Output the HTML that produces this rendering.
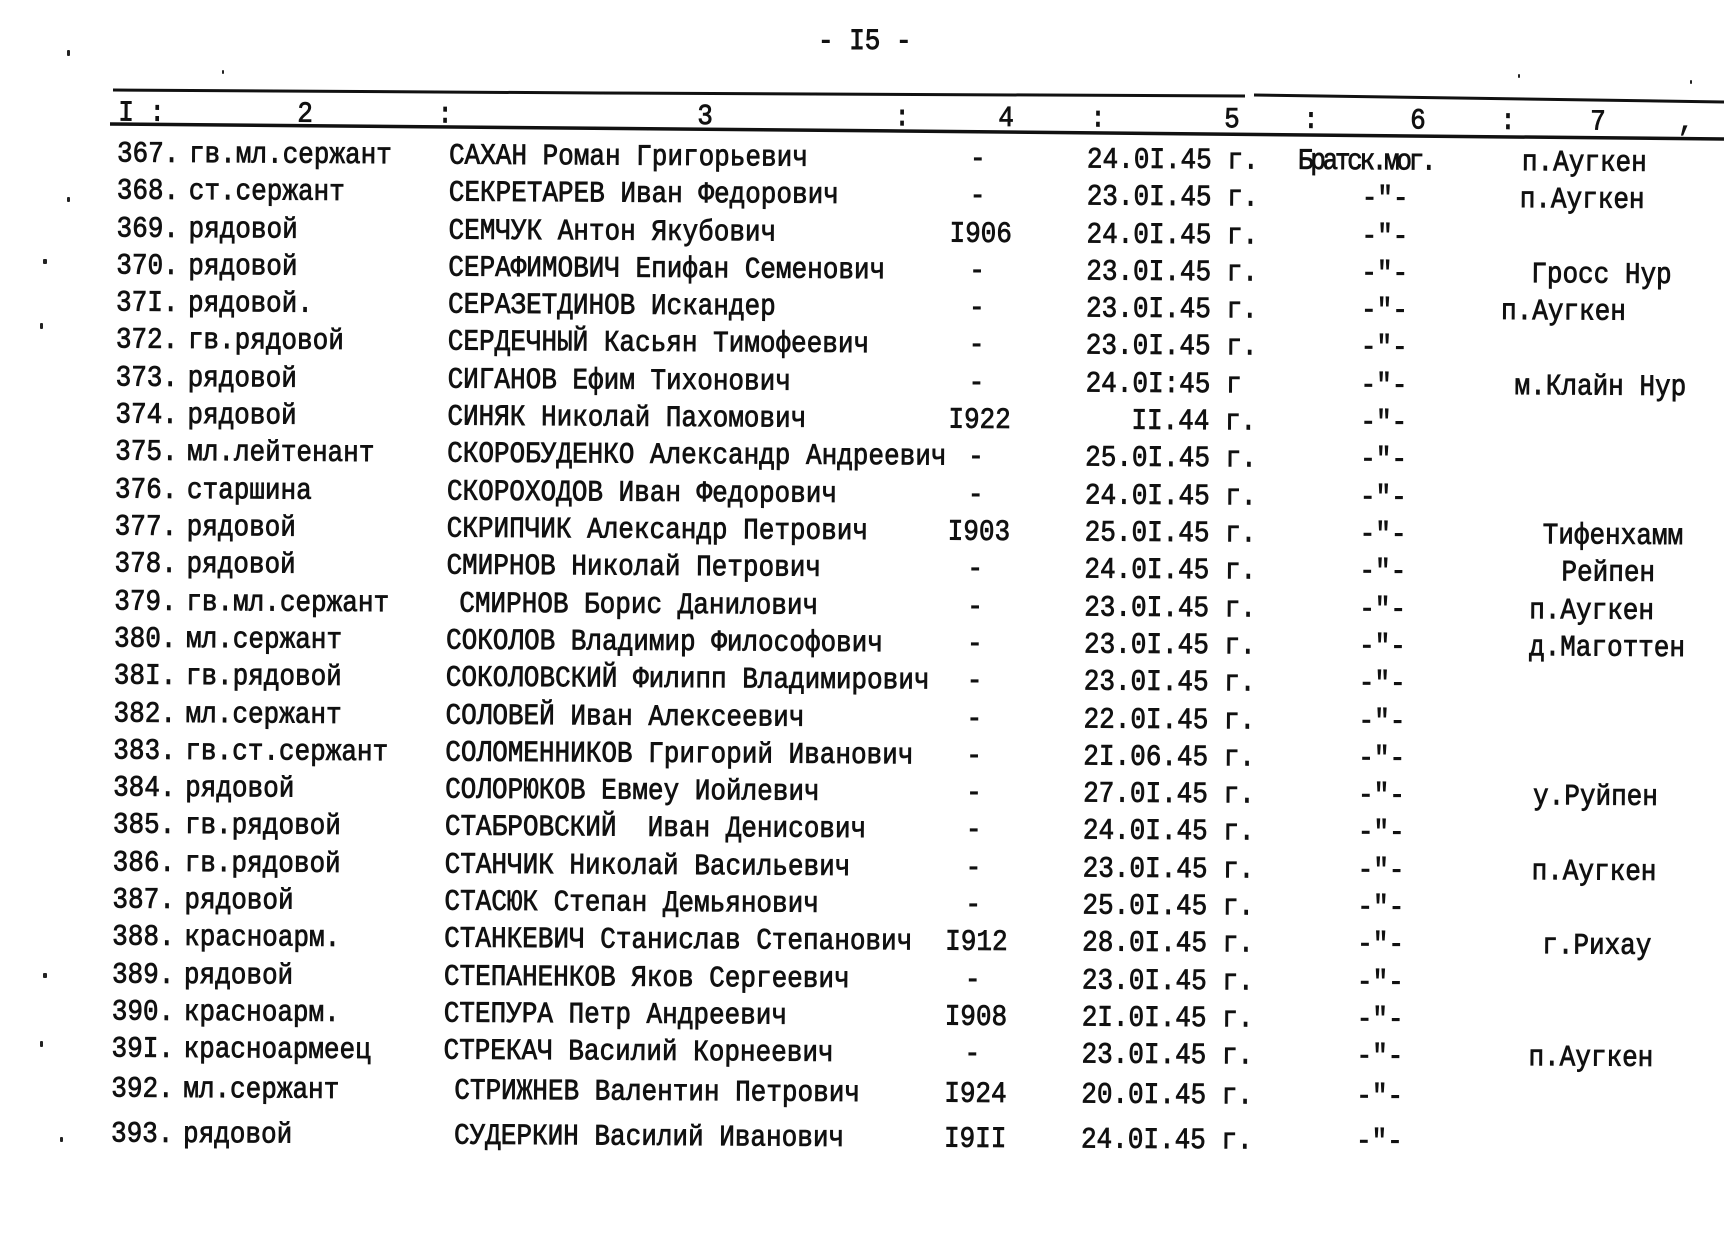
<!DOCTYPE html>
<html lang="ru">
<head>
<meta charset="utf-8">
<style>
html,body{margin:0;padding:0;background:#fff;}
body{width:1728px;height:1227px;position:relative;overflow:hidden;
 font-family:"Liberation Mono","DejaVu Sans Mono",monospace;font-size:26px;color:#111;}
.wrap{position:absolute;left:0;top:0;width:1728px;height:1227px;
 transform:rotate(0.35deg);transform-origin:117px 154px;}
.r{position:absolute;left:0;width:1728px;height:30px;line-height:30px;}
.r span{position:absolute;top:0;white-space:pre;-webkit-text-stroke:0.7px #111;transform:scaleY(1.14);transform-origin:0 60%;}
.n{left:117px}.k{left:189px}.f{left:449px}.fi{left:462px}
.y{left:950px}.d{left:970px}.t{left:1087px}.s{left:1298px;letter-spacing:-3.3px}.q{left:1362px}
.h{position:absolute;top:98px;line-height:30px;white-space:pre;-webkit-text-stroke:0.7px #111;transform:scaleY(1.12);transform-origin:0 60%;}
.title{position:absolute;left:818px;top:26px;line-height:30px;white-space:pre;-webkit-text-stroke:0.8px #111;transform:scaleY(1.15);}
.sp{position:absolute;background:#222;border-radius:1px;}
</style>
</head>
<body>
<div class="title">- I5 -</div>

<svg width="1728" height="1227" style="position:absolute;left:0;top:0">
<polyline points="113,90 600,93 1245,96" fill="none" stroke="#111" stroke-width="3"/>
<polyline points="1254,95 1724,102" fill="none" stroke="#111" stroke-width="3"/>
<polyline points="110,124 900,131 1724,139" fill="none" stroke="#111" stroke-width="3.5"/>
</svg>

<div class="sp" style="left:67px;top:50px;width:3px;height:6px"></div>
<div class="sp" style="left:67px;top:197px;width:3px;height:5px"></div>
<div class="sp" style="left:43px;top:259px;width:4px;height:5px"></div>
<div class="sp" style="left:40px;top:323px;width:3px;height:6px"></div>
<div class="sp" style="left:43px;top:973px;width:4px;height:5px"></div>
<div class="sp" style="left:40px;top:1041px;width:3px;height:6px"></div>
<div class="sp" style="left:60px;top:1137px;width:3px;height:5px"></div>
<div class="sp" style="left:222px;top:70px;width:2px;height:4px"></div>
<div class="sp" style="left:1518px;top:74px;width:2px;height:4px"></div>
<div class="sp" style="left:1690px;top:80px;width:2px;height:4px"></div>

<div class="wrap">
<span class="h" style="left:118px">I :</span>
<span class="h" style="left:297px">2</span>
<span class="h" style="left:437px">:</span>
<span class="h" style="left:697px">3</span>
<span class="h" style="left:894px">:</span>
<span class="h" style="left:998px">4</span>
<span class="h" style="left:1090px">:</span>
<span class="h" style="left:1224px">5</span>
<span class="h" style="left:1303px">:</span>
<span class="h" style="left:1410px">6</span>
<span class="h" style="left:1500px">:</span>
<span class="h" style="left:1590px">7</span>
<span class="h" style="left:1678px">,</span>

<div class="r" style="top:139px"><span class="n">367.</span><span class="k">гв.мл.сержант</span><span class="f">САХАН Роман Григорьевич</span><span class="d">-</span><span class="t">24.0I.45 г.</span><span class="s">Братск.мог.</span><span style="left:1522px">п.Аугкен</span></div>
<div class="r" style="top:176px"><span class="n">368.</span><span class="k">ст.сержант</span><span class="f">СЕКРЕТАРЕВ Иван Федорович</span><span class="d">-</span><span class="t">23.0I.45 г.</span><span class="q">-"-</span><span style="left:1520px">п.Аугкен</span></div>
<div class="r" style="top:214px"><span class="n">369.</span><span class="k">рядовой</span><span class="f">СЕМЧУК Антон Якубович</span><span class="y">I906</span><span class="t">24.0I.45 г.</span><span class="q">-"-</span></div>
<div class="r" style="top:251px"><span class="n">370.</span><span class="k">рядовой</span><span class="f">СЕРАФИМОВИЧ Епифан Семенович</span><span class="d">-</span><span class="t">23.0I.45 г.</span><span class="q">-"-</span><span style="left:1532px">Гросс Нур</span></div>
<div class="r" style="top:288px"><span class="n">37I.</span><span class="k">рядовой.</span><span class="f">СЕРАЗЕТДИНОВ Искандер</span><span class="d">-</span><span class="t">23.0I.45 г.</span><span class="q">-"-</span><span style="left:1502px">п.Аугкен</span></div>
<div class="r" style="top:325px"><span class="n">372.</span><span class="k">гв.рядовой</span><span class="f">СЕРДЕЧНЫЙ Касьян Тимофеевич</span><span class="d">-</span><span class="t">23.0I.45 г.</span><span class="q">-"-</span></div>
<div class="r" style="top:363px"><span class="n">373.</span><span class="k">рядовой</span><span class="f">СИГАНОВ Ефим Тихонович</span><span class="d">-</span><span class="t">24.0I:45 г</span><span class="q">-"-</span><span style="left:1516px">м.Клайн Нур</span></div>
<div class="r" style="top:400px"><span class="n">374.</span><span class="k">рядовой</span><span class="f">СИНЯК Николай Пахомович</span><span class="y">I922</span><span style="left:1133px">II.44 г.</span><span class="q">-"-</span></div>
<div class="r" style="top:437px"><span class="n">375.</span><span class="k">мл.лейтенант</span><span class="f">СКОРОБУДЕНКО Александр Андреевич</span><span class="d">-</span><span class="t">25.0I.45 г.</span><span class="q">-"-</span></div>
<div class="r" style="top:475px"><span class="n">376.</span><span class="k">старшина</span><span class="f">СКОРОХОДОВ Иван Федорович</span><span class="d">-</span><span class="t">24.0I.45 г.</span><span class="q">-"-</span></div>
<div class="r" style="top:512px"><span class="n">377.</span><span class="k">рядовой</span><span class="f">СКРИПЧИК Александр Петрович</span><span class="y">I903</span><span class="t">25.0I.45 г.</span><span class="q">-"-</span><span style="left:1545px">Тифенхамм</span></div>
<div class="r" style="top:549px"><span class="n">378.</span><span class="k">рядовой</span><span class="f">СМИРНОВ Николай Петрович</span><span class="d">-</span><span class="t">24.0I.45 г.</span><span class="q">-"-</span><span style="left:1564px">Рейпен</span></div>
<div class="r" style="top:587px"><span class="n">379.</span><span class="k">гв.мл.сержант</span><span class="fi">СМИРНОВ Борис Данилович</span><span class="d">-</span><span class="t">23.0I.45 г.</span><span class="q">-"-</span><span style="left:1532px">п.Аугкен</span></div>
<div class="r" style="top:624px"><span class="n">380.</span><span class="k">мл.сержант</span><span class="f">СОКОЛОВ Владимир Философович</span><span class="d">-</span><span class="t">23.0I.45 г.</span><span class="q">-"-</span><span style="left:1532px">д.Маготтен</span></div>
<div class="r" style="top:661px"><span class="n">38I.</span><span class="k">гв.рядовой</span><span class="f">СОКОЛОВСКИЙ Филипп Владимирович</span><span class="d">-</span><span class="t">23.0I.45 г.</span><span class="q">-"-</span></div>
<div class="r" style="top:699px"><span class="n">382.</span><span class="k">мл.сержант</span><span class="f">СОЛОВЕЙ Иван Алексеевич</span><span class="d">-</span><span class="t">22.0I.45 г.</span><span class="q">-"-</span></div>
<div class="r" style="top:736px"><span class="n">383.</span><span class="k">гв.ст.сержант</span><span class="f">СОЛОМЕННИКОВ Григорий Иванович</span><span class="d">-</span><span class="t">2I.06.45 г.</span><span class="q">-"-</span></div>
<div class="r" style="top:773px"><span class="n">384.</span><span class="k">рядовой</span><span class="f">СОЛОРЮКОВ Евмеу Иойлевич</span><span class="d">-</span><span class="t">27.0I.45 г.</span><span class="q">-"-</span><span style="left:1537px">у.Руйпен</span></div>
<div class="r" style="top:810px"><span class="n">385.</span><span class="k">гв.рядовой</span><span class="f">СТАБРОВСКИЙ  Иван Денисович</span><span class="d">-</span><span class="t">24.0I.45 г.</span><span class="q">-"-</span></div>
<div class="r" style="top:848px"><span class="n">386.</span><span class="k">гв.рядовой</span><span class="f">СТАНЧИК Николай Васильевич</span><span class="d">-</span><span class="t">23.0I.45 г.</span><span class="q">-"-</span><span style="left:1536px">п.Аугкен</span></div>
<div class="r" style="top:885px"><span class="n">387.</span><span class="k">рядовой</span><span class="f">СТАСЮК Степан Демьянович</span><span class="d">-</span><span class="t">25.0I.45 г.</span><span class="q">-"-</span></div>
<div class="r" style="top:922px"><span class="n">388.</span><span class="k">красноарм.</span><span class="f">СТАНКЕВИЧ Станислав Степанович</span><span class="y">I912</span><span class="t">28.0I.45 г.</span><span class="q">-"-</span><span style="left:1547px">г.Рихау</span></div>
<div class="r" style="top:960px"><span class="n">389.</span><span class="k">рядовой</span><span class="f">СТЕПАНЕНКОВ Яков Сергеевич</span><span class="d">-</span><span class="t">23.0I.45 г.</span><span class="q">-"-</span></div>
<div class="r" style="top:997px"><span class="n">390.</span><span class="k">красноарм.</span><span class="f">СТЕПУРА Петр Андреевич</span><span class="y">I908</span><span class="t">2I.0I.45 г.</span><span class="q">-"-</span></div>
<div class="r" style="top:1034px"><span class="n">39I.</span><span class="k">красноармеец</span><span class="f">СТРЕКАЧ Василий Корнеевич</span><span class="d">-</span><span class="t">23.0I.45 г.</span><span class="q">-"-</span><span style="left:1534px">п.Аугкен</span></div>
<div class="r" style="top:1074px"><span class="n">392.</span><span class="k">мл.сержант</span><span style="left:460px">СТРИЖНЕВ Валентин Петрович</span><span class="y">I924</span><span class="t">20.0I.45 г.</span><span class="q">-"-</span></div>
<div class="r" style="top:1119px"><span class="n">393.</span><span class="k">рядовой</span><span style="left:460px">СУДЕРКИН Василий Иванович</span><span class="y">I9II</span><span class="t">24.0I.45 г.</span><span class="q">-"-</span></div>
</div>
</body>
</html>
